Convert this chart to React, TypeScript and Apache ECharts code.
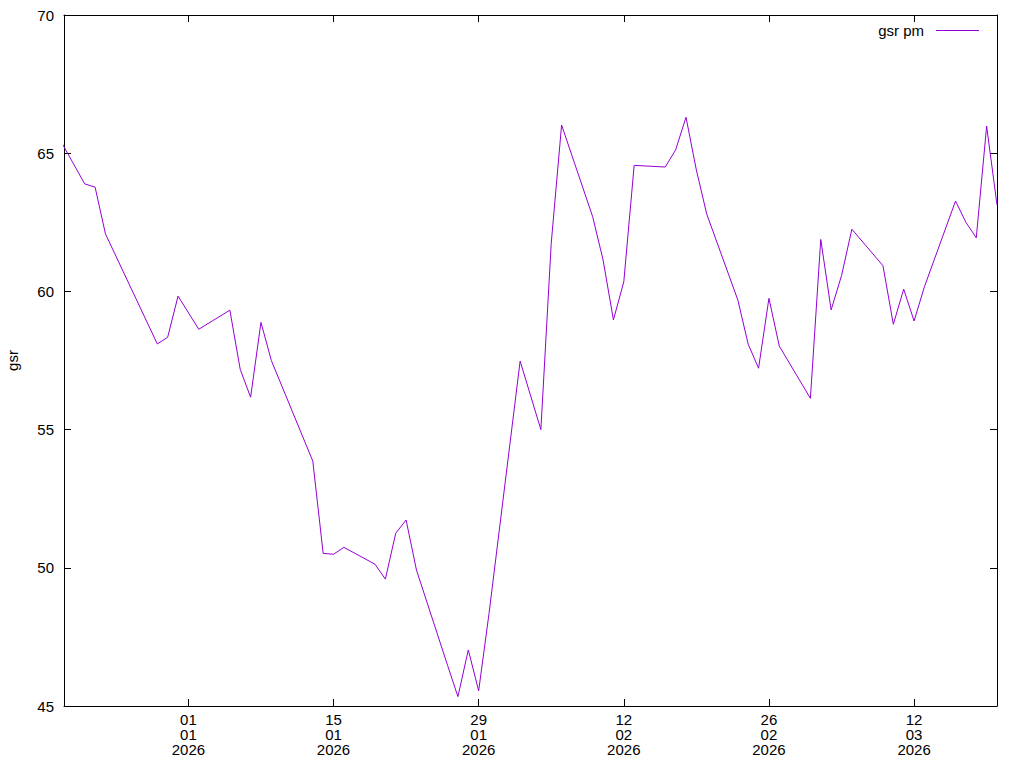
import React, { useEffect, useRef } from "react";
import * as echarts from "echarts";

const dates: string[] = [
  "2025-12-19", "2025-12-22", "2025-12-23", "2025-12-24", "2025-12-29", "2025-12-30", "2025-12-31",
  "2026-01-02", "2026-01-05", "2026-01-06", "2026-01-07", "2026-01-08", "2026-01-09",
  "2026-01-13", "2026-01-14", "2026-01-15", "2026-01-16", "2026-01-19", "2026-01-20",
  "2026-01-21", "2026-01-22", "2026-01-23", "2026-01-26", "2026-01-27", "2026-01-28",
  "2026-01-29", "2026-01-30", "2026-02-02", "2026-02-04", "2026-02-05", "2026-02-06",
  "2026-02-09", "2026-02-10", "2026-02-11", "2026-02-12", "2026-02-13", "2026-02-16",
  "2026-02-17", "2026-02-18", "2026-02-19", "2026-02-20", "2026-02-23", "2026-02-24",
  "2026-02-25", "2026-02-26", "2026-02-27", "2026-03-02", "2026-03-03", "2026-03-04",
  "2026-03-05", "2026-03-06", "2026-03-09", "2026-03-10", "2026-03-11", "2026-03-12",
  "2026-03-13", "2026-03-16", "2026-03-17", "2026-03-18", "2026-03-19", "2026-03-20",
];

const gsrPm: number[] = [
  65.9, 63.89, 63.77, 62.08, 58.1, 58.34, 59.83,
  58.63, 59.32, 57.18, 56.17, 58.88, 57.5,
  53.86, 50.52, 50.49, 50.74, 50.13, 49.59,
  51.25, 51.73, 49.92, 46.47, 45.34, 47.03,
  45.55, 48.35, 57.48, 55.0, 61.74, 66.02,
  62.7, 61.14, 58.97, 60.35, 64.56, 64.5,
  65.12, 66.3, 64.39, 62.8, 59.69, 58.09,
  57.22, 59.75, 58.02, 56.13, 61.88, 59.33,
  60.57, 62.25, 60.93, 58.81, 60.08, 58.93,
  60.17, 63.27, 62.5, 61.94, 65.98, 63.13,
];

const xRange: string[] = ["2025-12-20", "2026-03-20"];
const xTickDates: string[] = ["2026-01-01", "2026-01-15", "2026-01-29", "2026-02-12", "2026-02-26", "2026-03-12"];
const yTicks: number[] = [45, 50, 55, 60, 65, 70];

const DAY = 86400000;
const BASE = Date.UTC(2026, 0, 1);
const toDay = (s: string): number => {
  const [y, m, d] = s.split("-").map(Number);
  return Math.round((Date.UTC(y, m - 1, d) - BASE) / DAY);
};
const pad = (n: number) => (n < 10 ? "0" + n : "" + n);
const fmt = (v: number): string => {
  const dt = new Date(BASE + v * DAY);
  return pad(dt.getUTCDate()) + "\n" + pad(dt.getUTCMonth() + 1) + "\n" + dt.getUTCFullYear();
};

const FONT = "'Liberation Sans', Arial, sans-serif";

export default function App() {
  const ref = useRef<HTMLDivElement>(null);
  useEffect(() => {
    if (!ref.current) return;
    const chart = echarts.init(ref.current, null, { renderer: "svg" });
    const xTicks = xTickDates.map(toDay);
    const xmin = toDay(xRange[0]);
    const xmax = toDay(xRange[1]);
    const axisLine = { show: true, onZero: false, lineStyle: { color: "#000", width: 1 } };
    chart.setOption({
      animation: false,
      backgroundColor: "#fff",
      textStyle: { fontFamily: FONT },
      grid: { left: 64, top: 15, width: 933, height: 691, containLabel: false, outerBoundsMode: "none" },
      legend: {
        show: true,
        data: ["gsr pm"],
        align: "right",
        right: 45,
        top: 23,
        padding: 0,
        icon: "rect",
        itemWidth: 43,
        itemHeight: 1,
        selectedMode: false,
        textStyle: { fontSize: 15, color: "#000", fontFamily: FONT, padding: [0, 7, 0, 0] },
      },
      xAxis: [
        {
          type: "value",
          min: xmin,
          max: xmax,
          position: "bottom",
          axisLine,
          splitLine: { show: false },
          axisTick: { show: true, inside: true, length: 7, customValues: xTicks, lineStyle: { color: "#000" } },
          axisLabel: {
            show: true,
            customValues: xTicks,
            formatter: (v: number) => fmt(v),
            fontSize: 15,
            lineHeight: 15,
            color: "#000",
            fontFamily: FONT,
            margin: 6,
          },
        },
        {
          type: "value",
          min: xmin,
          max: xmax,
          position: "top",
          axisLine,
          splitLine: { show: false },
          axisTick: { show: true, inside: true, length: 7, customValues: xTicks, lineStyle: { color: "#000" } },
          axisLabel: { show: false },
        },
      ],
      yAxis: [
        {
          type: "value",
          min: yTicks[0],
          max: yTicks[yTicks.length - 1],
          interval: 5,
          position: "left",
          name: "gsr",
          nameLocation: "middle",
          nameRotate: 90,
          nameGap: 44,
          nameTextStyle: { fontSize: 15, color: "#000", fontFamily: FONT },
          axisLine,
          splitLine: { show: false },
          axisTick: { show: true, inside: true, length: 7, lineStyle: { color: "#000" } },
          axisLabel: { show: true, fontSize: 15, color: "#000", fontFamily: FONT, margin: 10 },
        },
        {
          type: "value",
          min: yTicks[0],
          max: yTicks[yTicks.length - 1],
          interval: 5,
          position: "right",
          axisLine,
          splitLine: { show: false },
          axisTick: { show: true, inside: true, length: 7, lineStyle: { color: "#000" } },
          axisLabel: { show: false },
        },
      ],
      series: [
        {
          name: "gsr pm",
          type: "line",
          xAxisIndex: 0,
          yAxisIndex: 0,
          data: dates.map((d, i) => [toDay(d), gsrPm[i]]),
          symbol: "none",
          showSymbol: false,
          clip: true,
          color: "#9400d3",
          lineStyle: { color: "#9400d3", width: 1 },
          itemStyle: { color: "#9400d3" },
        },
      ],
    });
    return () => chart.dispose();
  }, []);
  return (
    <div
      ref={ref}
      style={{ position: "fixed", left: 0, top: 0, width: 1024, height: 768, background: "#fff" }}
    />
  );
}
